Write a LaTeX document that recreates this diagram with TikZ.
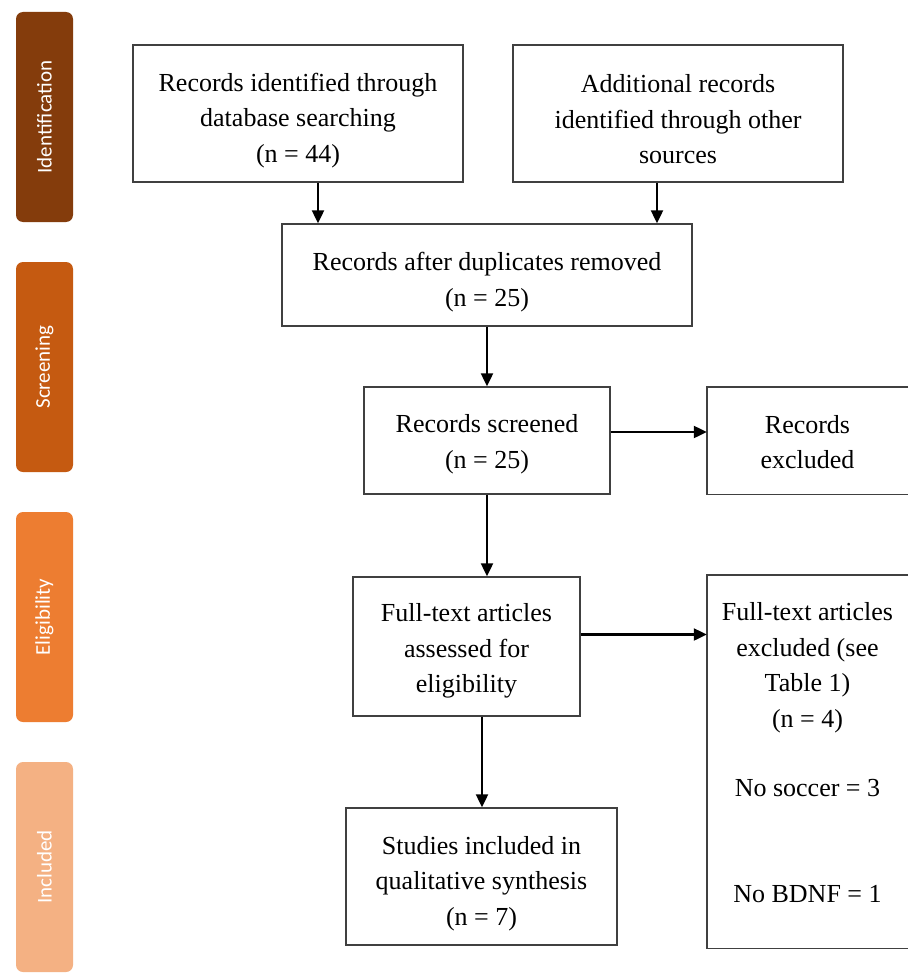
\documentclass[tikz,border=0pt]{standalone}
\usepackage{fontspec}
\setmainfont{Liberation Serif}
\newfontfamily\sidefont{Carlito}
\usetikzlibrary{arrows.meta}
\definecolor{cIdent}{HTML}{843C0C}
\definecolor{cScreen}{HTML}{C55A11}
\definecolor{cElig}{HTML}{ED7D31}
\definecolor{cIncl}{HTML}{F4B183}
\definecolor{boxline}{HTML}{404040}
\begin{document}
\begin{tikzpicture}[x=1pt,y=-1pt,
  box/.style={draw=boxline, line width=1.4pt, fill=white, inner sep=0pt},
  openbox/.style={draw=none, inner sep=0pt},
  txt/.style={align=center, inner sep=0pt, font=\fontsize{26}{35.5}\selectfont},
  stage/.style={fill=#1, rounded corners=7pt, minimum width=57pt, minimum height=210pt,
    inner sep=0pt, text=white, font=\sidefont\fontsize{21}{24}\selectfont},
  arr/.style={line width=2.2pt, -{Triangle[length=13pt,width=12pt]}}
]
\useasboundingbox (0,0) rectangle (908,974);
\fill[white] (0,0) rectangle (908,974);

% stage bars
\node[stage=cIdent]  (s1) at (44.5,117) {\rotatebox{90}{Identification}};
\node[stage=cScreen] (s2) at (44.5,367) {\rotatebox{90}{Screening}};
\node[stage=cElig]   (s3) at (44.5,617) {\rotatebox{90}{Eligibility}};
\node[stage=cIncl]   (s4) at (44.5,867) {\rotatebox{90}{Included}};

% boxes
\node[box, minimum width=330pt, minimum height=137pt] (A) at (298,113.5) {};
\node[box, minimum width=330pt, minimum height=137pt] (B) at (678,113.5) {};
\node[box, minimum width=410pt, minimum height=102pt] (C) at (487,275) {};
\node[box, minimum width=246pt, minimum height=107pt] (D) at (487,440.5) {};
\node[openbox, minimum width=201pt, minimum height=107pt] (E) at (807.5,440.5) {};
\node[box, minimum width=227pt, minimum height=139pt] (F) at (466.5,646.5) {};
\node[openbox, minimum width=201pt, minimum height=373pt] (G) at (807.5,761.5) {};
\node[box, minimum width=271pt, minimum height=137pt] (H) at (481.5,876.5) {};

% open boxes (right edge cut off)
\draw[boxline, line width=1.4pt] (E.north east) -- (E.north west) -- (E.south west) -- (E.south east);
\draw[boxline, line width=1.4pt] (G.north east) -- (G.north west) -- (G.south west) -- (G.south east);

% texts
\node[txt] (At) at ([yshift=-7pt]A.center) {Records identified through\\database searching\\(n = 44)};
\node[txt] (Bt) at ([yshift=-6pt]B.center) {Additional records\\identified through other\\sources};
\node[txt] (Ct) at ([yshift=-7pt]C.center) {Records after duplicates removed\\(n = 25)};
\node[txt] (Dt) at ([yshift=-3.5pt]D.center) {Records screened\\(n = 25)};
\node[txt] (Et) at ([yshift=-1.5pt]E.center) {Records\\excluded};
\node[txt] (Ft) at ([yshift=-4.5pt]F.center) {Full-text articles\\assessed for\\eligibility};
\node[txt] (Gt) at ([yshift=9pt]G.center) {Full-text articles\\excluded (see\\Table 1)\\(n = 4)\\[34pt]No soccer = 3\\[70pt]No BDNF = 1};
\node[txt] (Ht) at ([yshift=-7pt]H.center) {Studies included in\\qualitative synthesis\\(n = 7)};

% arrows
\draw[arr] ([xshift=20pt]A.south) -- ([xshift=20pt]A.south |- C.north);
\draw[arr] ([xshift=-21pt]B.south) -- ([xshift=-21pt]B.south |- C.north);
\draw[arr] (C.south) -- (D.north);
\draw[arr] ([yshift=8.5pt]D.east) -- ([yshift=8.5pt]D.east -| E.west);
\draw[arr] (D.south) -- (D.south |- F.north);
\draw[arr] ([yshift=12pt]F.east) -- ([yshift=12pt]F.east -| G.west);
\draw[arr] ([xshift=15.5pt]F.south) -- ([xshift=15.5pt]F.south |- H.north);
\end{tikzpicture}
\end{document}
